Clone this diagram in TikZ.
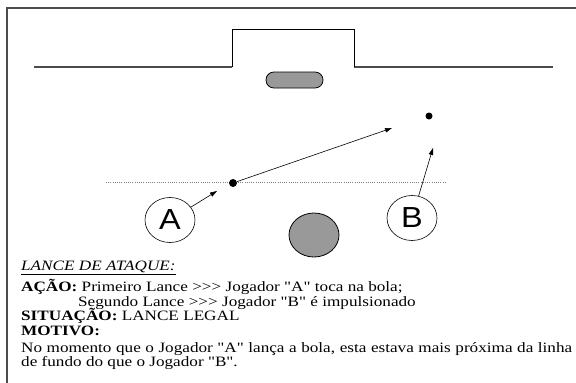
\documentclass[tikz,border=0pt]{standalone}
\usepackage{fontspec}
\setmainfont{Liberation Serif}[FakeStretch=1.2,Ligatures=TeXOff]
\newfontfamily\playerfont{Liberation Sans}[FakeStretch=1.12]
\usetikzlibrary{positioning}
\usetikzlibrary{shapes.geometric}
\usetikzlibrary{arrows.meta}
\definecolor{fieldgray}{gray}{0.6}
\definecolor{framegray}{gray}{0.3}
\newcommand{\legendfont}{\fontsize{14.3}{14.5}\selectfont\lineskiplimit=-100pt\relax}

\begin{document}
\begin{tikzpicture}
  [
    x=1pt,y=-1pt,
    player/.style={
      ellipse,
      draw,
      line width=0.6pt,
      minimum width=50pt,minimum height=45pt,
      inner sep=0pt,
      font=\playerfont\fontsize{29}{29}\selectfont
    },
    ball/.style={circle,fill=black,inner sep=0pt,minimum size=8pt},
    pass/.style={-{Triangle[length=7pt,width=4.5pt]},line width=0.6pt},
    legend/.style={anchor=north west,align=left,inner sep=0pt,font=\legendfont},
  ]
  \useasboundingbox (0,0) rectangle (576,383);
  % frame and goal
  \draw[framegray,line width=2pt] (7,383) -- (7,7.5) -- (576,7.5);
  \draw[framegray,line width=1.6pt] (34,67) -- (232,67);
  \draw[framegray,line width=1.6pt] (354,67) -- (553,67);
  \draw[line width=0.8pt] (232,67) -- (232,29) -- (354,29) -- (354,67);
  \node[draw,fill=fieldgray,rounded corners=7.9pt,line width=0.8pt,
        minimum width=57pt,minimum height=16pt] (pill) at (294.5,80) {};
  \draw[gray,line width=0.6pt,dash pattern=on 0.8pt off 1.4pt] (106,182) -- (446,182);

  \node[ball]                    (ball-pass) at (233,183) {};
  \node[ball,minimum size=7pt]   (ball-air)  at (429,116) {};
  \node[player]                  (player-a)  at (170,220) {A};
  \node[player]                  (player-b)  at (412,218) {B};
  \node[ellipse,draw,fill=fieldgray,line width=0.8pt,
        minimum width=50pt,minimum height=44pt] (center-ball) at (314,235) {};

  \coordinate (pass-end) at (392,128);
  \coordinate (a-end)    at (217,191);
  \coordinate (b-end)    at (433,148);
  \draw[pass] (ball-pass) -- (pass-end);
  \draw[pass] (player-a) -- (a-end);
  \draw[pass] (player-b) -- (b-end);

  \node[legend] (legend) at (21,260.5) {%
    \underline{\textit{LANCE DE ATAQUE:}}\\[7.2pt]
    \textbf{AÇÃO:} Primeiro Lance >>> Jogador "A" toca na bola;\\
    \hspace*{57pt}Segundo Lance >>> Jogador "B" é impulsionado\\
    \textbf{SITUAÇÃO:} LANCE LEGAL\\
    \textbf{MOTIVO:}\\[2.2pt]
    \makebox[551pt][s]{No momento que o Jogador "A" lança a bola, esta estava mais próxima da linha}\\
    de fundo do que o Jogador "B".};
\end{tikzpicture}
\end{document}
